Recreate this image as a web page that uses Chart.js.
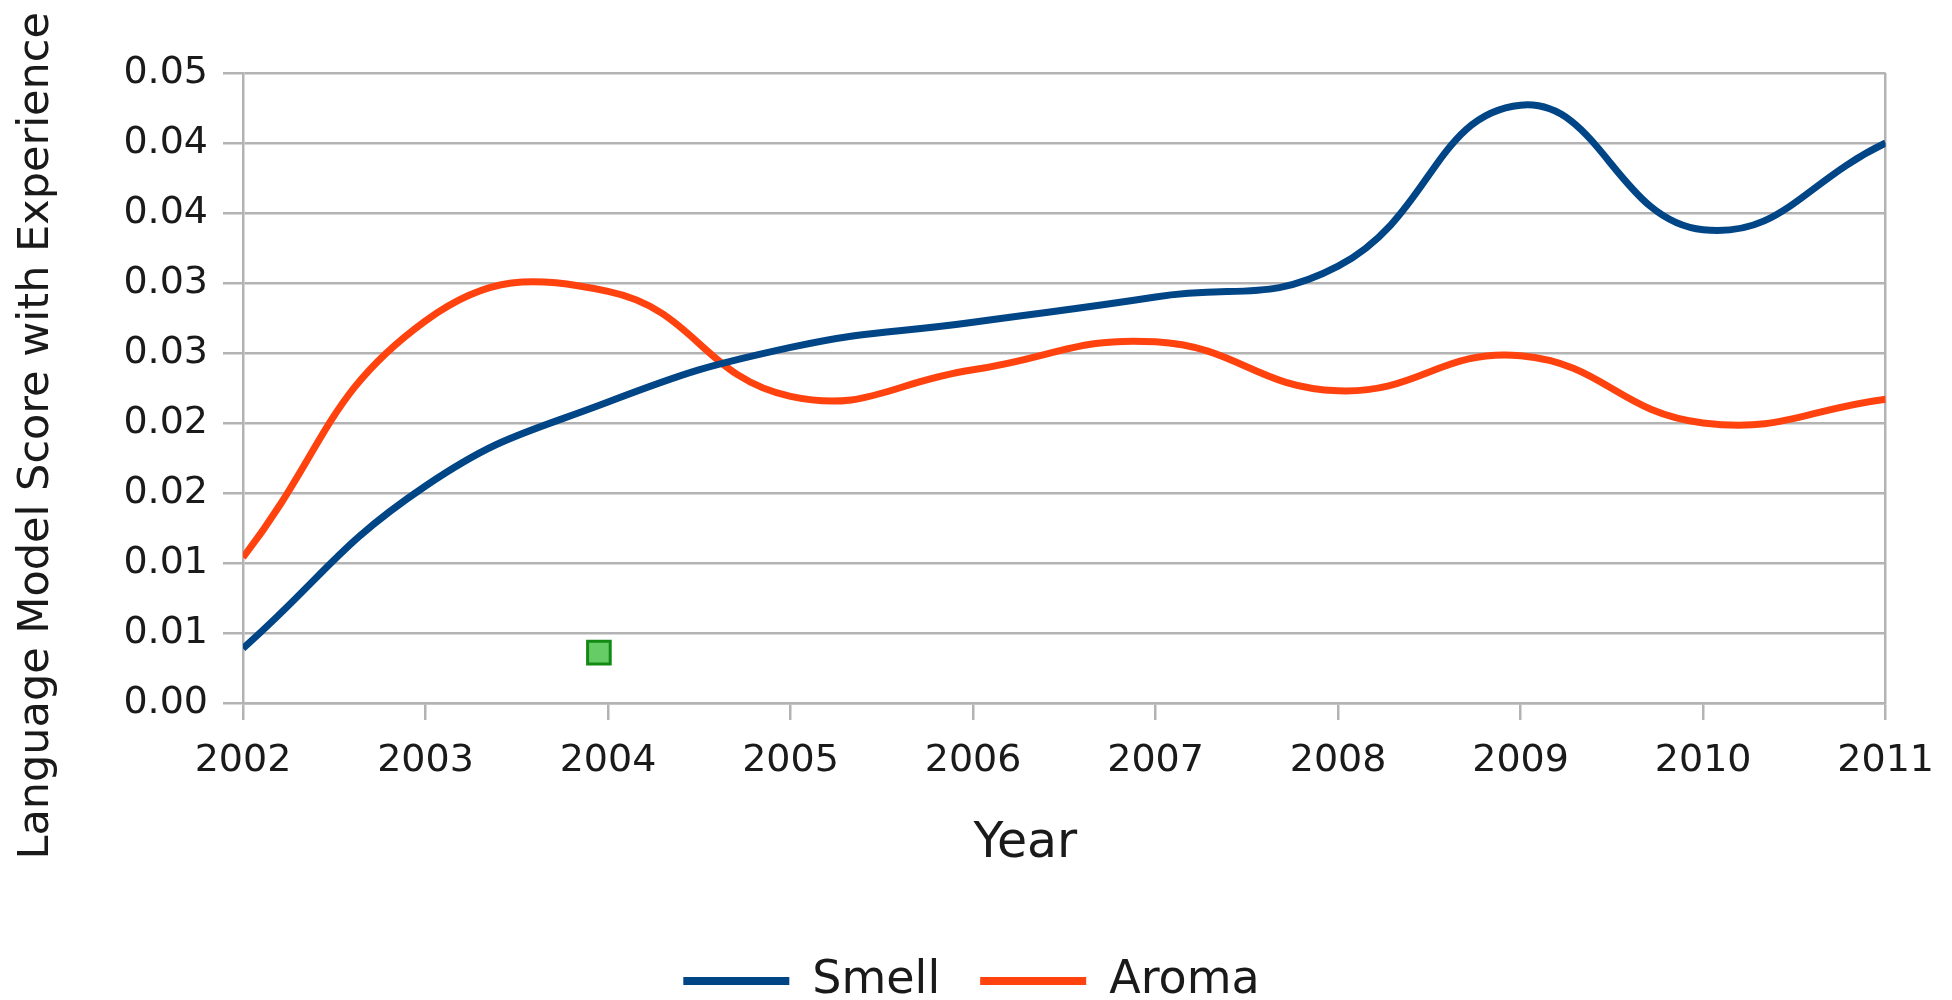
<!DOCTYPE html>
<html>
<head>
<meta charset="utf-8">
<script src="https://cdn.jsdelivr.net/npm/chart.js@4.4.1/dist/chart.umd.min.js"></script>
<style>
  html, body { margin: 0; padding: 0; background: #fff; }
  #wrap { width: 1952px; height: 1000px; }
</style>
</head>
<body>
<div id="wrap"><canvas id="scoreChart"></canvas></div>
<script>
// values
const years = [2002, 2003, 2004, 2005, 2006, 2007, 2008, 2009, 2010, 2011];
const smellScores = [0.0039, 0.0155, 0.0215, 0.0254, 0.0272, 0.0290, 0.0312, 0.0427, 0.0338, 0.0400];
const aromaScores = [0.0104, 0.0273, 0.0294, 0.0219, 0.0238, 0.0258, 0.0223, 0.0248, 0.0200, 0.0217];
const strayX = [2003.95];
const strayY = [0.0036];
// the axis shows 0.005 steps rounded to two decimals
const yTickLabels = ['0.00', '0.01', '0.01', '0.02', '0.02', '0.03', '0.03', '0.04', '0.04', '0.05'];
const xTickLabels = ['2002', '2003', '2004', '2005', '2006', '2007', '2008', '2009', '2010', '2011'];

const gridGrey = '#b3b3b3';
const textColor = '#1a1a1a';
const fontFamily = '"DejaVu Sans", sans-serif';
const nbsp = '\u00a0';

function toPoints(xs, ys) {
    return xs.map((x, i) => ({ x: x, y: ys[i] }));
}

const ctx = document.getElementById('scoreChart').getContext('2d');

new Chart(ctx, {
    type: 'line',
    data: {
        datasets: [
            {
                label: 'Smell',
                data: toPoints(years, smellScores),
                borderColor: '#004586',
                backgroundColor: '#004586',
                borderWidth: 7,
                pointRadius: 0,
                tension: 0.45
            },
            {
                label: 'Aroma',
                data: toPoints(years, aromaScores),
                borderColor: '#ff420e',
                backgroundColor: '#ff420e',
                borderWidth: 7,
                pointRadius: 0,
                tension: 0.45
            },
            {
                label: 'stray',
                data: toPoints(strayX, strayY),
                showLine: false,
                pointStyle: 'rect',
                pointRadius: 16,
                pointBorderWidth: 3,
                pointBackgroundColor: '#66cc66',
                pointBorderColor: '#138a13'
            }
        ]
    },
    options: {
        responsive: true,
        maintainAspectRatio: false,
        animation: false,
        layout: { padding: { top: 73, right: 63, left: 54, bottom: -14 } },
        plugins: {
            tooltip: { enabled: false },
            legend: {
                position: 'bottom',
                labels: {
                    filter: item => item.text !== 'stray',
                    generateLabels: chart => {
                        const items = Chart.defaults.plugins.legend.labels.generateLabels(chart);
                        items.forEach(it => { it.lineWidth = 0; });
                        return items;
                    },
                    boxWidth: 106,
                    boxHeight: 8,
                    padding: 40,
                    color: textColor,
                    font: { family: fontFamily, size: 46 }
                }
            }
        },
        scales: {
            x: {
                type: 'linear',
                min: 2002,
                max: 2011,
                afterFit: scale => { scale.height = 215; },
                border: { color: gridGrey, width: 2.5 },
                grid: {
                    drawOnChartArea: true,
                    color: c => (c.tick && c.tick.value === 2011) ? gridGrey : 'rgba(0,0,0,0)',
                    tickColor: gridGrey,
                    lineWidth: 2.5,
                    tickLength: 17
                },
                ticks: {
                    stepSize: 1,
                    padding: 18,
                    color: textColor,
                    font: { family: fontFamily, size: 38 },
                    maxRotation: 0,
                    callback: (v, i) => xTickLabels[i]
                },
                title: {
                    display: true,
                    text: 'Year' + nbsp.repeat(5),
                    color: textColor,
                    font: { family: fontFamily, size: 49 },
                    padding: { top: 0, bottom: 44 }
                }
            },
            y: {
                min: 0,
                max: 0.045,
                afterFit: scale => { scale.width = 189; },
                border: { color: gridGrey, width: 2.5 },
                grid: {
                    color: gridGrey,
                    lineWidth: 2.5,
                    tickLength: 20
                },
                ticks: {
                    stepSize: 0.005,
                    padding: 15,
                    color: textColor,
                    font: { family: fontFamily, size: 38 },
                    callback: (v, i) => yTickLabels[i]
                },
                title: {
                    display: true,
                    text: 'Language Model Score with Experience' + nbsp.repeat(7),
                    color: textColor,
                    font: { family: fontFamily, size: 43 },
                    padding: { top: -43, bottom: 0 }
                }
            }
        }
    }
});
</script>
</body>
</html>
